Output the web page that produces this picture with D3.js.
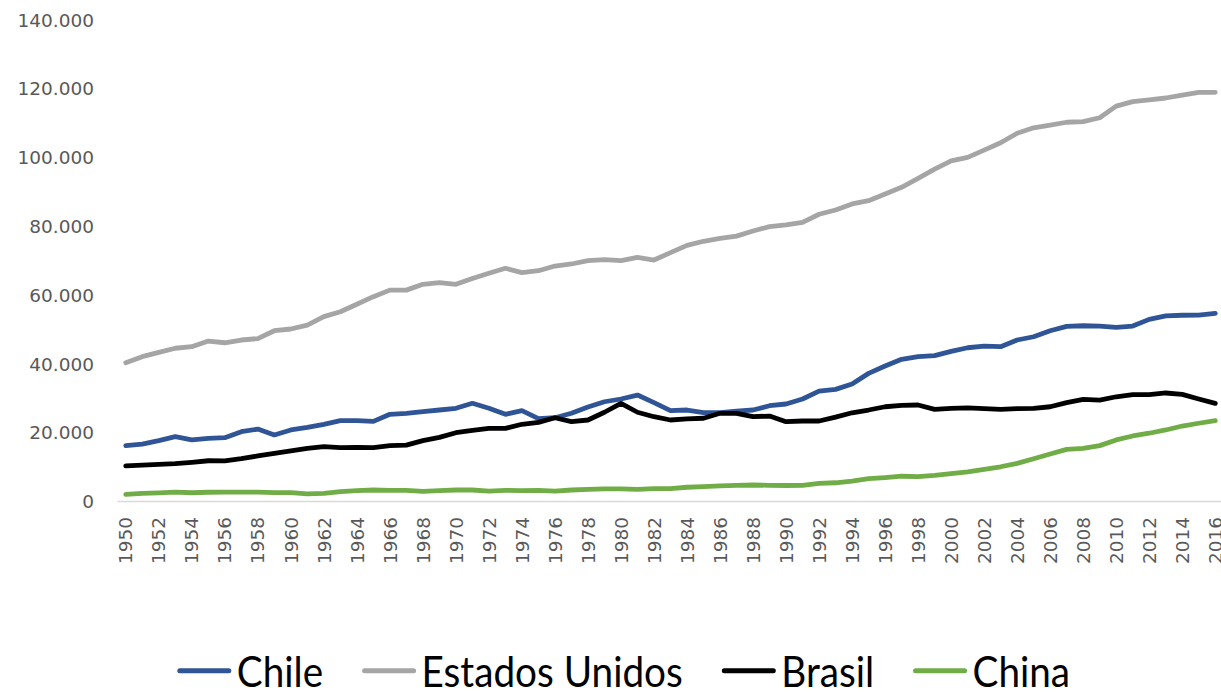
<!DOCTYPE html>
<html>
<head>
<meta charset="utf-8">
<script src="https://cdn.jsdelivr.net/npm/d3@7"></script>
<style>
  html, body { margin: 0; padding: 0; background: #ffffff; }
  svg { display: block; }
</style>
</head>
<body>
<svg id="chart" width="1221" height="692"></svg>
<script>
// ---------- DATA ----------
const years = [
  1950,1951,1952,1953,1954,1955,1956,1957,1958,1959,
  1960,1961,1962,1963,1964,1965,1966,1967,1968,1969,
  1970,1971,1972,1973,1974,1975,1976,1977,1978,1979,
  1980,1981,1982,1983,1984,1985,1986,1987,1988,1989,
  1990,1991,1992,1993,1994,1995,1996,1997,1998,1999,
  2000,2001,2002,2003,2004,2005,2006,2007,2008,2009,
  2010,2011,2012,2013,2014,2015,2016
];
const xTickLabels = [
  1950,1952,1954,1956,1958,1960,1962,1964,1966,1968,1970,1972,1974,1976,1978,1980,1982,
  1984,1986,1988,1990,1992,1994,1996,1998,2000,2002,2004,2006,2008,2010,2012,2014,2016
];
const yTickValues = [0, 20000, 40000, 60000, 80000, 100000, 120000, 140000];

const chile = [
  16100,16550,17550,18700,17750,18200,18400,20150,20900,19200,
  20650,21400,22300,23350,23350,23150,25200,25500,25950,26450,
  26950,28400,26950,25200,26250,23950,24200,25500,27300,28850,
  29650,30800,28600,26250,26450,25700,25700,26150,26450,27700,
  28200,29650,31950,32450,34000,37100,39250,41200,41950,42250,
  43500,44550,45050,44850,46800,47750,49500,50750,50950,50850,
  50500,50850,52800,53800,54000,54050,54550
];
const estadosUnidos = [
  40200,41950,43200,44400,44850,46500,46000,46800,47200,49500,
  50000,51150,53600,55000,57200,59400,61300,61300,63000,63500,
  63000,64700,66200,67650,66400,66950,68300,68900,69850,70150,
  69850,70850,70050,72200,74300,75500,76350,77000,78500,79750,
  80250,81000,83350,84600,86350,87300,89250,91200,93800,96500,
  98900,99900,102000,104150,106900,108500,109300,110100,110300,111400,
  114800,116100,116600,117150,118000,118800,118800
];
const brasil = [
  10200,10400,10650,10850,11250,11700,11650,12300,13100,13850,
  14600,15300,15800,15500,15600,15500,16100,16250,17550,18500,
  19850,20550,21100,21100,22300,22850,24200,23050,23550,25800,
  28400,25800,24500,23550,23850,24050,25500,25500,24500,24700,
  23050,23250,23250,24400,25650,26450,27400,27800,27900,26650,
  26950,27050,26850,26650,26850,26950,27400,28600,29550,29350,
  30300,30900,30900,31400,31000,29650,28400
];
const china = [
  1950,2200,2350,2600,2400,2550,2600,2600,2600,2450,
  2450,2050,2200,2700,3000,3200,3100,3100,2800,3000,
  3200,3200,2900,3100,3000,3100,2900,3200,3400,3500,
  3500,3400,3600,3600,4000,4200,4400,4550,4650,4550,
  4500,4550,5150,5300,5800,6500,6800,7200,7100,7450,
  7950,8450,9200,9950,10950,12300,13650,15000,15300,16100,
  17750,18900,19700,20650,21800,22600,23350
];

const seriesNames = ["Chile", "Estados Unidos", "Brasil", "China"];
const seriesValues = [chile, estadosUnidos, brasil, china];
const seriesColors = ["#2f5597", "#a5a5a5", "#000000", "#70ad47"];

// ---------- LAYOUT ----------
const svg = d3.select("#chart");
const plotLeft = 117.5, plotRight = 1223.5, plotTop = 19.4, plotBottom = 501;
const tickFont = "'DejaVu Sans', sans-serif";
const tickColor = "#595959";
const tickSize = 18.5;

const x = d3.scaleBand().domain(years).range([plotLeft, plotRight]).paddingInner(0).paddingOuter(0);
const xc = d => x(d) + x.bandwidth() / 2;
const y = d3.scaleLinear().domain([0, 140000]).range([plotBottom, plotTop]);

const locale = d3.formatLocale({ decimal: ",", thousands: ".", grouping: [3], currency: ["", ""] });
const fmt = locale.format(",d");

// Y axis (labels only)
const yAxis = d3.axisLeft(y).tickValues(yTickValues).tickFormat(fmt).tickSize(0).tickPadding(0);
const gy = svg.append("g").attr("transform", `translate(94,0)`).call(yAxis);
gy.select(".domain").remove();
gy.selectAll("text")
  .attr("font-family", tickFont).attr("font-size", tickSize).attr("fill", tickColor)
  .attr("dy", "0.36em");

// X axis
const xAxis = d3.axisBottom(x).tickValues(xTickLabels).tickSize(0).tickPadding(0);
const gx = svg.append("g").attr("transform", `translate(0,${plotBottom})`).call(xAxis);
gx.select(".domain").attr("stroke", "#d9d9d9").attr("stroke-width", 1.5)
  .attr("d", `M${plotLeft},0.5H${plotRight}`);
gx.selectAll(".tick text")
  .attr("font-family", tickFont).attr("font-size", tickSize).attr("fill", tickColor)
  .attr("text-anchor", "end")
  .attr("transform", "translate(0,16) rotate(-90)")
  .attr("x", 0).attr("y", 0).attr("dy", "0.36em");

// Lines
const line = d3.line().x((d, i) => xc(years[i])).y(d => y(d));
seriesValues.forEach((vals, k) => {
  svg.append("path")
    .datum(vals)
    .attr("d", line)
    .attr("fill", "none")
    .attr("stroke", seriesColors[k])
    .attr("stroke-width", 4.8)
    .attr("stroke-linejoin", "round")
    .attr("stroke-linecap", "round");
});

// Legend
const legendFont = "Lato, 'Open Sans', sans-serif";
const legendSize = 43;
const legendScaleX = 0.9;
let lx = 177.3;
const legendBaseline = 686.5;
const legendLineY = 670.7;
seriesNames.forEach((name, k) => {
  svg.append("line")
    .attr("x1", lx + 2.5).attr("x2", lx + 54 - 2.5)
    .attr("y1", legendLineY).attr("y2", legendLineY)
    .attr("stroke", seriesColors[k]).attr("stroke-width", 5)
    .attr("stroke-linecap", "round");
  const tx = lx + 59.5;
  const t = svg.append("text")
    .attr("transform", `translate(${tx},${legendBaseline}) scale(${legendScaleX},1)`)
    .attr("font-family", legendFont).attr("font-size", legendSize).attr("fill", "#000")
    .text(name);
  const w = t.node().getComputedTextLength() * legendScaleX;
  lx = tx + w + 39;
});
</script>
</body>
</html>
